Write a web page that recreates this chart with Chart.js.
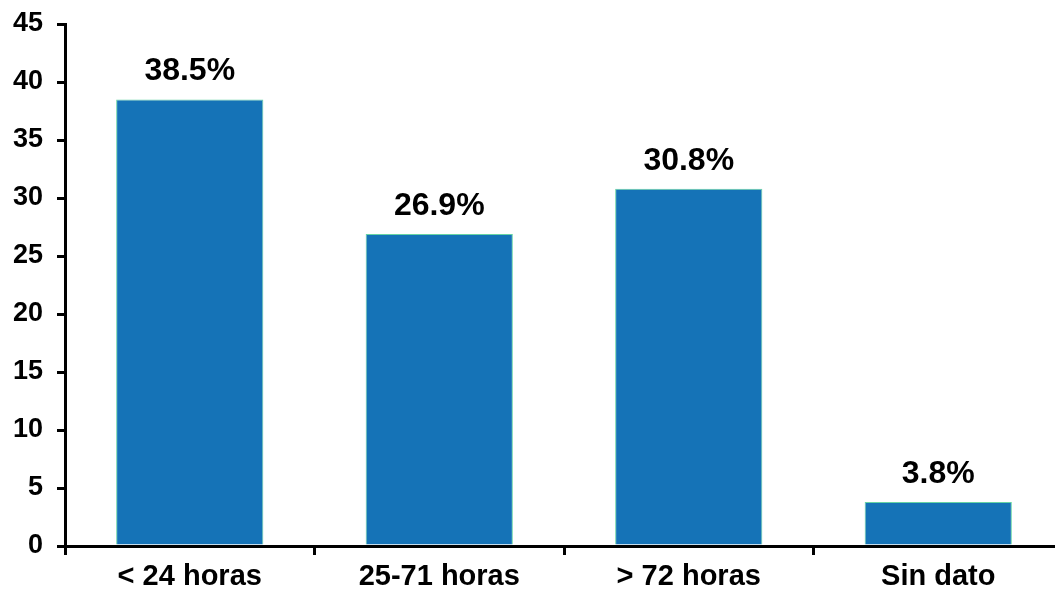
<!DOCTYPE html>
<html>
<head>
<meta charset="utf-8">
<script src="https://cdn.jsdelivr.net/npm/chart.js@4"></script>
<style>
    html, body { margin: 0; padding: 0; background: #fff; overflow: hidden; }
    #wrap { width: 1063px; height: 593px; }
</style>
</head>
<body>
<div id="wrap"><canvas id="barChart"></canvas></div>
<script>
const categories = ['< 24 horas', '25-71 horas', '> 72 horas', 'Sin dato'];
const values = [38.5, 26.9, 30.8, 3.8];
const yTicks = [0, 5, 10, 15, 20, 25, 30, 35, 40, 45];

const FONT = '"Liberation Sans", Arial, sans-serif';

// draws the percentage above each bar
const valueLabels = {
    id: 'valueLabels',
    afterDatasetsDraw(chart) {
        const ctx = chart.ctx;
        const meta = chart.getDatasetMeta(0);
        ctx.save();
        ctx.font = 'bold 32px ' + FONT;
        ctx.fillStyle = '#000';
        ctx.textAlign = 'center';
        ctx.textBaseline = 'alphabetic';
        meta.data.forEach((bar, i) => {
            ctx.fillText(values[i].toFixed(1) + '%', bar.x, bar.y - 19);
        });
        ctx.restore();
    }
};

new Chart(document.getElementById('barChart'), {
    type: 'bar',
    data: {
        labels: categories,
        datasets: [{
            data: values,
            backgroundColor: '#1573b7',
            borderColor: '#66d4a4',
            borderWidth: 1,
            categoryPercentage: 1,
            barPercentage: 0.59
        }]
    },
    options: {
        responsive: true,
        maintainAspectRatio: false,
        animation: false,
        layout: { padding: { top: 24, right: 0, left: 0, bottom: 0 } },
        plugins: {
            legend: { display: false },
            tooltip: { enabled: false }
        },
        scales: {
            x: {
                border: { display: true, color: '#000', width: 3 },
                grid: {
                    drawOnChartArea: false,
                    drawTicks: true,
                    tickLength: 9,
                    color: '#000',
                    lineWidth: 3
                },
                ticks: {
                    color: '#000',
                    font: { family: FONT, size: 29, weight: 'bold' },
                    padding: 5
                },
                afterFit: function(scale) {
                    scale.height = 47;
                    scale.paddingLeft = 0;
                    scale.paddingRight = 0;
                }
            },
            y: {
                min: 0,
                max: 45,
                afterBuildTicks: function(scale) {
                    scale.ticks = yTicks.map(v => ({ value: v }));
                },
                border: { display: true, color: '#000', width: 3 },
                grid: {
                    drawOnChartArea: false,
                    drawTicks: true,
                    tickLength: 8,
                    color: '#000',
                    lineWidth: 3
                },
                ticks: {
                    color: '#000',
                    font: { family: FONT, size: 27, weight: 'bold' },
                    padding: 14
                },
                afterFit: function(scale) {
                    scale.width = 65;
                    scale.paddingTop = 0;
                    scale.paddingBottom = 0;
                }
            }
        }
    },
    plugins: [valueLabels]
});
</script>
</body>
</html>
